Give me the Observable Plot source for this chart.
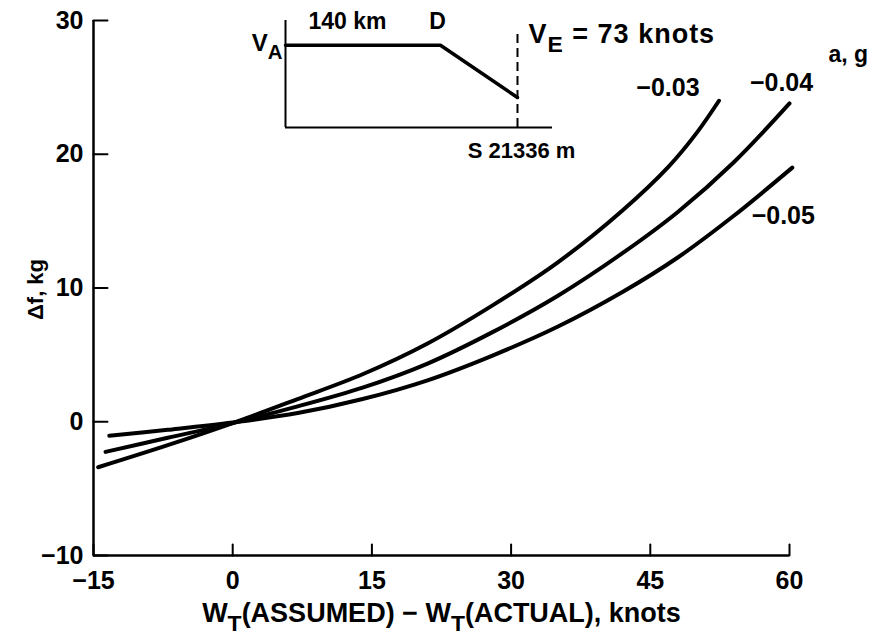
<!DOCTYPE html>
<html><head><meta charset="utf-8">
<script src="https://cdn.jsdelivr.net/npm/d3@7"></script>
<script src="https://cdn.jsdelivr.net/npm/@observablehq/plot@0.6"></script>
<style>
body{margin:0;background:#fff;}
#wrap{position:relative;width:873px;height:637px;}
#wrap svg{overflow:visible;}
#inset{position:absolute;left:230px;top:0;}
</style></head><body><div id="wrap"><div id="main"></div><div id="inset"></div></div>
<script>
// ---- main chart data ----
const xTicks = [-15, 0, 15, 30, 45, 60];
const yTicks = [-10, 0, 10, 20, 30];
const series = ["−0.03", "−0.04", "−0.05"];
const x003 = [-14.5, -7, 0, 7, 14, 21, 28, 35, 42, 47, 50, 52.4];
const y003 = [-3.4, -1.75, -0.1, 1.7, 3.55, 5.85, 8.7, 11.9, 15.8, 19.1, 21.6, 24.0];
const x004 = [-13.7, -7, 0, 7, 14, 21, 28, 35, 42, 48, 54, 60];
const y004 = [-2.25, -1.2, -0.1, 1.15, 2.55, 4.35, 6.7, 9.4, 12.6, 15.7, 19.4, 23.8];
const x005 = [-13.3, -7, 0, 7, 14, 21, 28, 35, 42, 48, 54, 60.3];
const y005 = [-1.05, -0.6, -0.05, 0.65, 1.7, 3.1, 4.95, 7.1, 9.7, 12.3, 15.4, 19.0];
const xTitle = "W_T(ASSUMED) − W_T(ACTUAL), knots";
const yTitle = "Δf, kg";
const legendTitle = "a, g";

// ---- inset (schematic) data ----
const insetS = [0, 14250, 21336];      // distance, m
const insetV = [200, 200, 73];         // speed, knots
const insetSmax = 24555;
const insetVmax = 260;
const insetDashTop = 236;
const insetLabels = ["V_A", "140 km", "D", "V_E = 73 knots", "S 21336 m"];

const xs = [x003, x004, x005], ys = [y003, y004, y005];
const rows = [];
series.forEach((s, i) => xs[i].forEach((x, j) => rows.push({a: s, x, y: ys[i][j]})));

const font = "'Liberation Sans', Arial, Helvetica, sans-serif";
const tickShape = {draw(ctx, l) { ctx.moveTo(0, 0); ctx.lineTo(0, -l); }};
const labelOffsets = [{dx: -51, dy: -13}, {dx: -8, dy: -20}, {dx: -9, dy: 48}];

const main = Plot.plot({
  width: 873, height: 637,
  marginLeft: 93, marginRight: 84, marginTop: 20, marginBottom: 82,
  style: {fontFamily: font, background: "white", color: "black"},
  x: {domain: [-15, 60]},
  y: {domain: [-10, 30]},
  marks: [
    Plot.ruleX([-15], {stroke: "black", strokeWidth: 2.5}),
    Plot.ruleY([-10], {stroke: "black", strokeWidth: 2.5}),
    Plot.vector(yTicks, {x: -15, y: d => d, length: 14, rotate: 90, anchor: "start", shape: tickShape, stroke: "black", strokeWidth: 2}),
    Plot.vector(xTicks, {x: d => d, y: -10, length: 11, rotate: 0, anchor: "start", shape: tickShape, stroke: "black", strokeWidth: 2}),
    Plot.axisX(xTicks, {tickSize: 0, tickPadding: 16, fontSize: 25, fontWeight: "bold", label: null}),
    Plot.axisY(yTicks, {tickSize: 0, tickPadding: 10, fontSize: 25, fontWeight: "bold", label: null}),
    Plot.line(rows, {x: "x", y: "y", z: "a", stroke: "black", strokeWidth: 4, curve: "catmull-rom", strokeLinecap: "round"}),
    ...series.map((s, i) => Plot.text(rows.filter(r => r.a === s), Plot.selectLast({x: "x", y: "y", text: "a", fontSize: 25, fontWeight: "bold", lineAnchor: "middle", ...labelOffsets[i]}))),
    Plot.text([legendTitle], {frameAnchor: "top-right", textAnchor: "start", dx: 39, dy: 34, fontSize: 23, fontWeight: "bold", lineAnchor: "middle"}),
    Plot.text([xTitle], {frameAnchor: "bottom", dy: 58, fontSize: 27, fontWeight: "bold", lineAnchor: "middle"}),
    Plot.text([yTitle], {frameAnchor: "left", dx: -58, dy: 32, rotate: -90, fontSize: 22, fontWeight: "bold", lineAnchor: "middle"})
  ]
});
document.getElementById("main").append(main);

const prof = insetS.map((s, i) => ({s, v: insetV[i]}));
const sEnd = insetS[insetS.length - 1];
const inset = Plot.plot({
  width: 360, height: 170,
  marginLeft: 55, marginRight: 38, marginTop: 20, marginBottom: 43,
  style: {fontFamily: font, background: "transparent", color: "black"},
  x: {domain: [0, insetSmax], axis: null},
  y: {domain: [0, insetVmax], axis: null},
  marks: [
    Plot.ruleX([0], {y1: 0, y2: insetVmax, stroke: "black", strokeWidth: 2}),
    Plot.ruleY([0], {x1: 0, x2: insetSmax, stroke: "black", strokeWidth: 2}),
    Plot.ruleX([sEnd], {y1: 0, y2: insetDashTop, stroke: "black", strokeWidth: 2, strokeDasharray: "9,5"}),
    Plot.line(prof, {x: "s", y: "v", stroke: "black", strokeWidth: 3.5}),
    Plot.text([insetLabels[0]], {x: 0, y: insetV[0], textAnchor: "end", dx: -3, dy: -2, fontSize: 24, fontWeight: "bold", lineAnchor: "middle"}),
    Plot.text([insetLabels[1]], {x: 0, y: insetV[0], textAnchor: "start", dx: 23, dy: -24, fontSize: 23, fontWeight: "bold", lineAnchor: "middle"}),
    Plot.text([insetLabels[2]], {x: insetS[1], y: insetV[1], dx: -3, dy: -24, fontSize: 23, fontWeight: "bold", lineAnchor: "middle"}),
    Plot.text([insetLabels[3]], {x: sEnd, y: insetDashTop, textAnchor: "start", dx: 11, dy: 4, fontSize: 27, fontWeight: "bold", lineAnchor: "middle"}),
    Plot.text([insetLabels[4]], {x: sEnd, y: 0, dx: 4, dy: 23, fontSize: 22, fontWeight: "bold", lineAnchor: "middle"})
  ]
});
document.getElementById("inset").append(inset);

// subscripts: "X_Y" -> X with subscript Y
document.querySelectorAll("#wrap text").forEach(t => {
  const txt = t.textContent;
  if (!txt.includes("_")) return;
  if (txt.includes("73 knots")) t.setAttribute("letter-spacing", "1");
  const parts = txt.split(/_(.)/);
  while (t.firstChild) t.removeChild(t.firstChild);
  const ns = "http://www.w3.org/2000/svg";
  let shifted = false;
  parts.forEach((p, i) => {
    if (p === "") return;
    const ts = document.createElementNS(ns, "tspan");
    ts.textContent = p;
    if (i % 2 === 1) { ts.setAttribute("dy", "0.4em"); ts.setAttribute("font-size", "0.85em"); shifted = true; }
    else if (shifted) { ts.setAttribute("dy", "-0.34em"); shifted = false; }
    t.appendChild(ts);
  });
});
</script></body></html>
